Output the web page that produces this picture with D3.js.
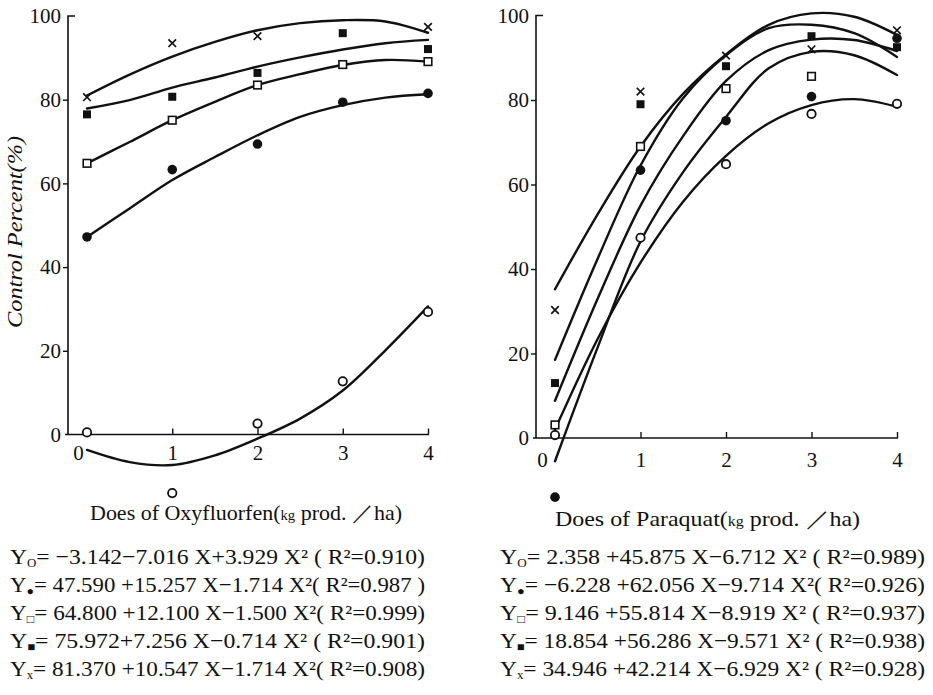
<!DOCTYPE html>
<html>
<head>
<meta charset="utf-8">
<script src="https://cdn.jsdelivr.net/npm/d3@7"></script>
<style>
  html, body { margin: 0; padding: 0; background: #fff; }
  svg { display: block; }
  text { fill: #111; }
</style>
</head>
<body>
<svg id="chart" width="933" height="695"></svg>
<script>
// ---------- data ----------
const doses = [0, 1, 2, 3, 4];
const curveDoses = [0, 0.5, 1, 1.5, 2, 2.5, 3, 3.5, 4];
const yTicks = [0, 20, 40, 60, 80, 100];
const xTicks = [0, 1, 2, 3, 4];
const seriesKeys = ["openCircle", "filledCircle", "openSquare", "filledSquare", "cross"];

// Oxyfluorfen: observed points
const oxyOpenCircle   = [0.5, -14.0, 2.6, 12.7, 29.3];
const oxyFilledCircle = [47.2, 63.3, 69.4, 79.4, 81.5];
const oxyOpenSquare   = [64.8, 75.1, 83.5, 88.4, 89.1];
const oxyFilledSquare = [76.5, 80.7, 86.4, 95.9, 92.1];
const oxyCross        = [80.6, 93.5, 95.2, null, 97.4];
// Oxyfluorfen: fitted curves as drawn
const oxyCurveOpenCircle   = [-3.7, -6.6, -7.3, -5.0, -1.0, 3.8, 10.5, 20.1, 30.6];
const oxyCurveFilledCircle = [47.2, 54.0, 60.8, 66.3, 71.5, 75.9, 78.7, 80.5, 81.3];
const oxyCurveOpenSquare   = [64.8, 69.9, 75.1, 79.5, 83.5, 86.1, 88.3, 89.5, 89.1];
const oxyCurveFilledSquare = [77.9, 79.9, 82.9, 85.3, 87.9, 90.1, 92.0, 93.5, 94.3];
const oxyCurveCross        = [81.0, 86.0, 90.3, 93.8, 96.6, 98.3, 99.0, 98.7, 96.0];

// Paraquat: observed points
const paraOpenCircle   = [0.7, 47.4, 64.8, 76.7, 79.1];
const paraFilledCircle = [-14.0, 63.4, 75.1, 80.8, 94.6];
const paraOpenSquare   = [3.1, 69.0, 82.7, 85.6, null];
const paraFilledSquare = [13.0, 79.0, 88.0, 95.1, 92.5];
const paraCross        = [30.3, 82.0, 90.5, 92.0, 96.5];
// Paraquat: fitted curves as drawn
const paraCurveOpenCircle   = [2.0, 23.5, 41.5, 56.0, 66.8, 74.5, 78.8, 80.2, 78.4];
const paraCurveFilledCircle = [-5.5, 21.5, 46.5, 63.0, 76.0, 87.5, 91.4, 90.6, 85.9];
const paraCurveOpenSquare   = [8.8, 33.0, 55.0, 71.5, 84.5, 91.8, 94.3, 94.2, 91.6];
const paraCurveFilledSquare = [18.5, 42.5, 64.5, 80.5, 90.6, 97.0, 97.8, 95.8, 90.2];
const paraCurveCross        = [35.2, 53.0, 69.0, 81.5, 90.8, 97.8, 100.5, 99.7, 95.4];

// Texts
const yTitle = "Control Percent(%)";
const oxyTitle = ["Does of Oxyfluorfen(", "kg", " prod. ／ha)"];
const paraTitle = ["Does of  Paraquat(", "kg", " prod. ／ha)"];
const eqSubs = ["O", "●", "□", "■", "x"];
const oxyEquations = [
  "= −3.142−7.016 X+3.929 X² ( R²=0.910)",
  "= 47.590 +15.257 X−1.714 X²( R²=0.987 )",
  "= 64.800 +12.100 X−1.500 X²( R²=0.999)",
  "= 75.972+7.256 X−0.714 X²  ( R²=0.901)",
  "= 81.370 +10.547 X−1.714 X²( R²=0.908)"
];
const paraEquations = [
  "= 2.358 +45.875 X−6.712 X²  ( R²=0.989)",
  "= −6.228 +62.056 X−9.714 X²( R²=0.926)",
  "= 9.146 +55.814 X−8.919 X²  ( R²=0.937)",
  "= 18.854 +56.286 X−9.571 X² ( R²=0.938)",
  "= 34.946 +42.214 X−6.929 X² ( R²=0.928)"
];

// ---------- drawing ----------
const svg = d3.select("#chart");
svg.append("rect").attr("width", 933).attr("height", 695).attr("fill", "#fff");
const serif = "'Liberation Serif', 'DejaVu Serif', serif";

function drawPanel(cfg) {
  const x = d3.scaleLinear().domain([0, 4]).range(cfg.xRange);
  const y = d3.scaleLinear().domain([0, 100]).range(cfg.yRange);
  const g = svg.append("g");

  // y axis (line with a small corner at the top)
  g.append("path")
    .attr("d", `M${cfg.axisX + 7},${y(100)} H${cfg.axisX} V${y(0)}`)
    .attr("fill", "none").attr("stroke", "#111").attr("stroke-width", 1.6);
  const yAxis = d3.axisLeft(y).tickValues(yTicks).tickSize(5).tickPadding(2).tickFormat(d3.format("d"));
  const ya = g.append("g").attr("transform", `translate(${cfg.axisX},0)`).call(yAxis);
  ya.select(".domain").remove();
  ya.selectAll(".tick line").attr("stroke", "#111").attr("stroke-width", 1.4)
    .filter(d => d === 100 || d === 0).remove();
  ya.selectAll(".tick text").attr("font-family", serif).attr("font-size", 21).attr("fill", "#111");

  // x axis
  g.append("line")
    .attr("x1", cfg.axisX - 3).attr("x2", x(4) + 1)
    .attr("y1", y(0)).attr("y2", y(0))
    .attr("stroke", "#111").attr("stroke-width", 1.6);
  const xAxis = d3.axisBottom(x).tickValues(xTicks).tickSize(-6).tickPadding(11).tickFormat(d3.format("d"));
  const xa = g.append("g").attr("transform", `translate(0,${y(0)})`).call(xAxis);
  xa.select(".domain").remove();
  xa.selectAll(".tick line").attr("stroke", "#111").attr("stroke-width", 1.4)
    .filter(d => d === 0).remove();
  xa.selectAll(".tick text").attr("font-family", serif).attr("font-size", 21).attr("fill", "#111")
    .attr("dy", cfg.xLabelDy)
    .attr("dx", d => d === 0 ? cfg.zeroDx : 0);

  // curves
  const line = d3.line()
    .x((d, i) => x(curveDoses[i]))
    .y(d => y(d))
    .curve(d3.curveCatmullRom.alpha(0.5));
  cfg.curves.forEach(c => {
    g.append("path").attr("d", line(c))
      .attr("fill", "none").attr("stroke", "#111")
      .attr("stroke-width", 2.4).attr("stroke-linecap", "round");
  });

  // markers
  cfg.points.forEach((vals, si) => {
    const key = seriesKeys[si];
    vals.forEach((v, i) => {
      if (v === null) return;
      const px = x(doses[i]), py = y(v);
      if (key === "openCircle") {
        g.append("circle").attr("cx", px).attr("cy", py).attr("r", 4.2)
          .attr("fill", "#fff").attr("stroke", "#111").attr("stroke-width", 1.8);
      } else if (key === "filledCircle") {
        g.append("circle").attr("cx", px).attr("cy", py).attr("r", 4.8).attr("fill", "#111");
      } else if (key === "openSquare") {
        g.append("rect").attr("x", px - 3.8).attr("y", py - 3.8).attr("width", 7.6).attr("height", 7.6)
          .attr("fill", "#fff").attr("stroke", "#111").attr("stroke-width", 1.6);
      } else if (key === "filledSquare") {
        g.append("rect").attr("x", px - 4).attr("y", py - 4).attr("width", 8).attr("height", 8)
          .attr("fill", "#111");
      } else {
        const s = 3.8;
        g.append("path").attr("d", `M${px - s},${py - s}L${px + s},${py + s}M${px + s},${py - s}L${px - s},${py + s}`)
          .attr("stroke", "#111").attr("stroke-width", 1.7);
      }
    });
  });

  // x title
  const t = g.append("text").attr("x", cfg.titleX).attr("y", cfg.titleY)
    .attr("font-family", serif).attr("font-size", 21)
    .attr("textLength", cfg.titleLen).attr("lengthAdjust", "spacingAndGlyphs");
  t.append("tspan").text(cfg.title[0]);
  t.append("tspan").attr("font-size", 14).text(cfg.title[1]);
  t.append("tspan").text(cfg.title[2]);

  // equations
  cfg.equations.forEach((eq, i) => {
    const e = g.append("text").attr("x", cfg.eqX).attr("y", cfg.eqY0 + i * cfg.eqStep)
      .attr("font-family", serif).attr("font-size", 22)
      .attr("textLength", cfg.eqLen).attr("lengthAdjust", "spacingAndGlyphs");
    e.append("tspan").text("Y");
    e.append("tspan").attr("font-size", 12).attr("dy", 3).text(eqSubs[i]);
    e.append("tspan").attr("dy", -3).text(eq);
  });
}

drawPanel({
  xRange: [87, 428], yRange: [434.5, 16], axisX: 68,
  xLabelDy: "0.71em", zeroDx: -9,
  curves: [oxyCurveOpenCircle, oxyCurveFilledCircle, oxyCurveOpenSquare, oxyCurveFilledSquare, oxyCurveCross],
  points: [oxyOpenCircle, oxyFilledCircle, oxyOpenSquare, oxyFilledSquare, oxyCross],
  title: oxyTitle, titleX: 90, titleY: 520, titleLen: 312,
  equations: oxyEquations, eqX: 10, eqY0: 564, eqStep: 28, eqLen: 415
});

drawPanel({
  xRange: [555, 897], yRange: [438, 15.5], axisX: 536,
  xLabelDy: "0.85em", zeroDx: -13,
  curves: [paraCurveOpenCircle, paraCurveFilledCircle, paraCurveOpenSquare, paraCurveFilledSquare, paraCurveCross],
  points: [paraOpenCircle, paraFilledCircle, paraOpenSquare, paraFilledSquare, paraCross],
  title: paraTitle, titleX: 555, titleY: 526, titleLen: 305,
  equations: paraEquations, eqX: 500, eqY0: 564, eqStep: 28, eqLen: 425
});

// y title
svg.append("text")
  .attr("transform", "translate(22,232) rotate(-90)")
  .attr("text-anchor", "middle")
  .attr("font-family", serif).attr("font-style", "italic").attr("font-size", 20)
  .attr("textLength", 192).attr("lengthAdjust", "spacingAndGlyphs")
  .text(yTitle);
</script>
</body>
</html>
